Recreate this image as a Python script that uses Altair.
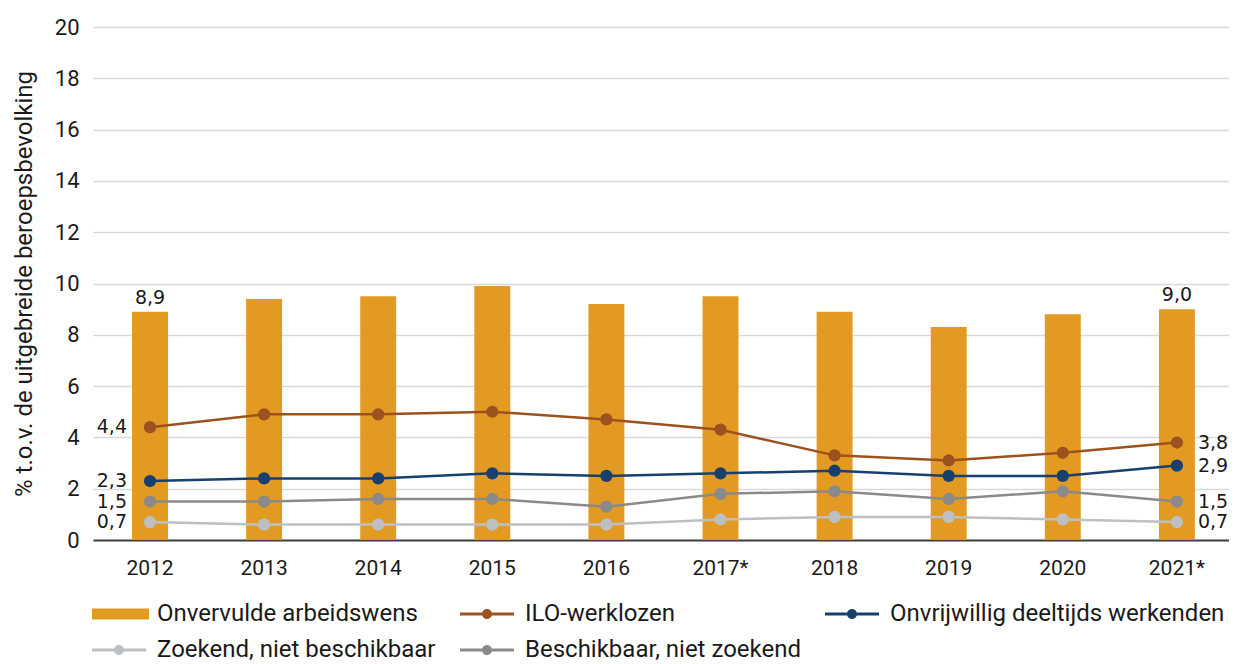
import altair as alt
import pandas as pd

# ---- data ----
years = ["2012", "2013", "2014", "2015", "2016", "2017*", "2018", "2019", "2020", "2021*"]
onvervulde = [8.9, 9.4, 9.5, 9.9, 9.2, 9.5, 8.9, 8.3, 8.8, 9.0]
ilo = [4.4, 4.9, 4.9, 5.0, 4.7, 4.3, 3.3, 3.1, 3.4, 3.8]
onvrijwillig = [2.3, 2.4, 2.4, 2.6, 2.5, 2.6, 2.7, 2.5, 2.5, 2.9]
zoekend = [0.7, 0.6, 0.6, 0.6, 0.6, 0.8, 0.9, 0.9, 0.8, 0.7]
beschikbaar = [1.5, 1.5, 1.6, 1.6, 1.3, 1.8, 1.9, 1.6, 1.9, 1.5]

series_names = [
    "Onvervulde arbeidswens",
    "ILO-werklozen",
    "Onvrijwillig deeltijds werkenden",
    "Zoekend, niet beschikbaar",
    "Beschikbaar, niet zoekend",
]
colors = ["#E39A22", "#9B521F", "#17406E", "#BDC0C3", "#8A8A8A"]
y_ticks = [0, 2, 4, 6, 8, 10, 12, 14, 16, 18, 20]
y_title = "% t.o.v. de uitgebreide beroepsbevolking"

def fmt(v):
    return f"{v:.1f}".replace(".", ",")

bar_df = pd.DataFrame({"jaar": years, "waarde": onvervulde, "reeks": series_names[0]})
bar_df["label"] = [fmt(v) for v in onvervulde]

rows = []
for name, vals in zip(series_names[1:], [ilo, onvrijwillig, zoekend, beschikbaar]):
    for yr, v in zip(years, vals):
        rows.append({"jaar": yr, "waarde": v, "reeks": name, "label": fmt(v)})
line_df = pd.DataFrame(rows)

AX_FONT = "Roboto"
VAL_FONT = "DejaVu Sans"
TXT = "#1a1a1a"

x_enc = alt.X(
    "jaar:N",
    sort=years,
    scale=alt.Scale(paddingInner=0.685, paddingOuter=0.3206, align=0.5335, round=False),
    axis=alt.Axis(
        title=None, labelAngle=0, ticks=False, labelPadding=17, grid=False,
        domainColor="#404040", domainWidth=2,
        labelFont=AX_FONT, labelFontSize=21, labelColor=TXT,
    ),
)
y_enc = alt.Y(
    "waarde:Q",
    scale=alt.Scale(domain=[0, 20], nice=False),
    axis=alt.Axis(
        values=y_ticks, title=y_title, grid=True, gridColor="#D9D9D9", gridWidth=1.5,
        domain=False, ticks=False, labelPadding=14,
        labelFont=AX_FONT, labelFontSize=22, labelColor=TXT,
        titleFont=AX_FONT, titleFontSize=24, titleFontWeight="normal", titleColor=TXT,
        titlePadding=18,
    ),
)
# legend scale (all series) and line scale (line series only, separate domain)
color_scale = alt.Scale(domain=series_names, range=colors)
line_scale = alt.Scale(domain=series_names[1:], range=colors[1:])

bar_shape = "M-1,-0.55H4.7V0.55H-1Z"
line_shape = "M-1,-0.15H4.4V0.15H-1Z M2.2,0A0.5,0.5,0,1,1,1.2,0A0.5,0.5,0,1,1,2.2,0Z"
shapes = [bar_shape, line_shape, line_shape, line_shape, line_shape]

legend = alt.Legend(
    title=None, orient="none", direction="horizontal", legendX=-3, legendY=575, columns=3,
    symbolSize=400, symbolStrokeWidth=0, symbolOpacity=1, labelOffset=43,
    labelFont=AX_FONT, labelFontSize=24, labelColor=TXT, labelLimit=600,
    columnPadding=22, rowPadding=12, padding=0,
)

bars = alt.Chart(bar_df).mark_bar(color=colors[0]).encode(x=x_enc, y=y_enc)

lines = alt.Chart(line_df).mark_line(strokeWidth=2.5).encode(
    x=x_enc, y=y_enc,
    stroke=alt.Stroke("reeks:N", scale=line_scale, legend=None),
)

points = alt.Chart(line_df).mark_point(filled=True, size=150, opacity=1, strokeWidth=0).encode(
    x=x_enc, y=y_enc,
    fill=alt.Fill("reeks:N", scale=line_scale, legend=None),
)

legend_layer = alt.Chart(line_df).transform_filter("false").mark_point(filled=True, opacity=1).encode(
    x=x_enc, y=y_enc,
    color=alt.Color("reeks:N", scale=color_scale, legend=legend),
    shape=alt.Shape("reeks:N", scale=alt.Scale(domain=series_names, range=shapes), legend=legend),
)

bar_labels = alt.Chart(bar_df).transform_filter(
    "datum.jaar == '2012' || datum.jaar == '2021*'"
).mark_text(baseline="bottom", dy=-4, font=VAL_FONT, fontSize=19, color=TXT).encode(
    x=x_enc, y=y_enc, text="label:N"
)

left_labels = alt.Chart(line_df).transform_filter("datum.jaar == '2012'").mark_text(
    align="right", baseline="middle", dx=-23, font=VAL_FONT, fontSize=19, color=TXT
).encode(x=x_enc, y=y_enc, text="label:N")

right_labels = alt.Chart(line_df).transform_filter("datum.jaar == '2021*'").mark_text(
    align="left", baseline="middle", dx=21, font=VAL_FONT, fontSize=19, color=TXT
).encode(x=x_enc, y=y_enc, text="label:N")

chart = alt.layer(
    bars, lines, points, legend_layer, bar_labels, left_labels, right_labels
).properties(
    width=1136, height=513,
    autosize=alt.AutoSizeParams(type="none"),
    padding={"left": 85, "top": 19, "right": 0, "bottom": 124},
    background="white",
).configure_view(stroke=None)

chart.save("out.html", embed_options={"renderer": "svg", "actions": False})
